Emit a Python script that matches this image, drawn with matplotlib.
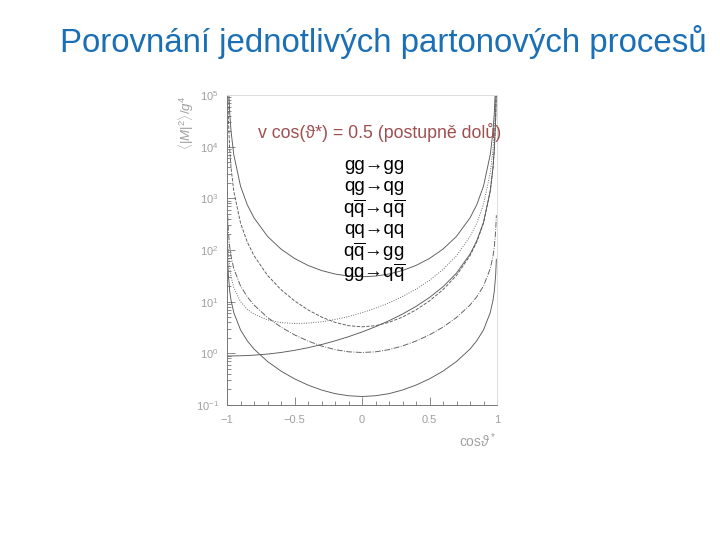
import matplotlib
matplotlib.use("Agg")
import matplotlib.pyplot as plt
from matplotlib.ticker import LogLocator, NullFormatter, MultipleLocator

plt.rcParams['font.family'] = ['Liberation Sans', 'DejaVu Sans']
plt.rcParams['mathtext.fontset'] = 'custom'
plt.rcParams['mathtext.rm'] = 'Liberation Sans'
plt.rcParams['mathtext.it'] = 'Liberation Sans:italic'
plt.rcParams['mathtext.bf'] = 'Liberation Sans:bold'

# cos(theta*) grid the curves were read at
cos_theta = [-0.995, -0.99, -0.98, -0.97, -0.95, -0.9, -0.85, -0.8, -0.7, -0.6,
             -0.5, -0.4, -0.3, -0.2, -0.1, 0.0, 0.1, 0.2, 0.3, 0.4,
             0.5, 0.6, 0.7, 0.8, 0.85, 0.9, 0.95, 0.97, 0.98, 0.99, 0.995]

# <|M|^2>/g^4
gg_gg = [718000, 179000, 44560, 19710, 7033, 1723, 753.5, 418.7, 183.9, 104.2,
         68.7, 50.3, 40.1, 34.3, 31.3, 30.4, 31.3, 34.3, 40.1, 50.3,
         68.7, 104.2, 183.9, 418.7, 753.5, 1723, 7033, 19710, 44560, 179000, 718000]
qg_qg = [178.8, 89.9, 45.5, 30.7, 18.84, 10.02, 7.13, 5.74, 4.45, 3.94,
         3.78, 3.84, 4.08, 4.51, 5.16, 6.11, 7.48, 9.51, 12.59, 17.5,
         25.9, 41.9, 77.5, 181.9, 330.8, 761.9, 3122, 8758, 19800, 79600, 319200]
qqb_qqb = [0.889, 0.889, 0.889, 0.890, 0.891, 0.897, 0.907, 0.922, 0.968, 1.039,
           1.142, 1.284, 1.479, 1.742, 2.10, 2.59, 3.28, 4.28, 5.76, 8.10,
           12.06, 19.47, 35.8, 83.2, 150.4, 344.0, 1399, 3911, 8830, 35440, 142000]
qq_qq = [141750, 35320, 8771, 3872, 1375, 332.5, 142.9, 77.7, 32.3, 17.09,
         10.37, 6.94, 5.04, 3.98, 3.43, 3.26, 3.43, 3.98, 5.04, 6.94,
         10.37, 17.09, 32.3, 77.7, 142.9, 332.5, 1375, 3872, 8771, 35320, 141750]
qqb_gg = [470.2, 233.2, 114.7, 75.3, 43.7, 20.17, 12.42, 8.61, 4.94, 3.22,
          2.28, 1.73, 1.39, 1.18, 1.07, 1.04, 1.07, 1.18, 1.39, 1.73,
          2.28, 3.22, 4.94, 8.61, 12.42, 20.17, 43.7, 75.3, 114.7, 233.2, 470.2]
gg_qqb = [66.1, 32.8, 16.13, 10.58, 6.15, 2.84, 1.75, 1.21, 0.695, 0.453,
          0.321, 0.243, 0.195, 0.166, 0.151, 0.146, 0.151, 0.166, 0.195, 0.243,
          0.321, 0.453, 0.695, 1.21, 1.75, 2.84, 6.15, 10.58, 16.13, 32.8, 66.1]

series = [gg_gg, qg_qg, qqb_qqb, qq_qq, qqb_gg, gg_qqb]
styles = ['-', ':', '-', '--', '-.', '-']

qbar = r'$\mathrm{q\overline{q}}$'
process_labels = ['gg\u2192gg',
                  'qg\u2192qg',
                  qbar + '\u2192' + qbar,
                  'qq\u2192qq',
                  qbar + '\u2192gg',
                  'gg\u2192' + qbar]

fig = plt.figure(figsize=(7.2, 5.4), dpi=100)
ax = fig.add_axes([0.3153, 0.25, 0.375, 0.574])

for vals, ls in zip(series, styles):
    ax.plot(cos_theta, vals, linestyle=ls, color='#5a5a5a', lw=0.65)

ax.set_yscale('log')
ax.set_xlim(-1, 1)
ax.set_ylim(1e-1, 1e5)

grey = '#a0a0a0'
ax.yaxis.set_major_locator(LogLocator(base=10, numticks=10))
ax.yaxis.set_minor_locator(LogLocator(base=10, subs=range(2, 10), numticks=10))
ax.yaxis.set_minor_formatter(NullFormatter())
ax.xaxis.set_minor_locator(MultipleLocator(0.1))
ax.set_xticks([-1, -0.5, 0, 0.5, 1])
ax.set_xticklabels(['\u22121', '\u22120.5', '0', '0.5', '1'])
ax.tick_params(which='both', direction='in', colors='#777777', labelcolor=grey,
               labelsize=8, width=0.6)
ax.tick_params(which='major', length=6)
ax.tick_params(which='minor', length=3)
ax.tick_params(axis='x', pad=7)
ax.tick_params(axis='y', pad=6)
for side in ['left', 'bottom']:
    ax.spines[side].set_color('#777777')
    ax.spines[side].set_linewidth(0.7)
for side in ['top', 'right']:
    ax.spines[side].set_color('#dddddd')
    ax.spines[side].set_linewidth(0.7)

ax.text(-0.15, 1.0, r'$\langle|M|^2\rangle/g^4$', transform=ax.transAxes,
        rotation=90, ha='center', va='top', color=grey, fontsize=9.5)
ax.text(1.0, -0.085, r'cos$\vartheta^*$', transform=ax.transAxes,
        ha='right', va='top', color=grey, fontsize=10)

fig.text(60 / 720, 1 - 42 / 540, 'Porovnání jednotlivých partonových procesů',
         color='#1a6fb5', fontsize=23.8, va='center', ha='left')
fig.text(258 / 720, 1 - 133 / 540, 'v cos(\u03d1*) = 0.5 (postupně dolů)',
         color='#9e4f4f', fontsize=12.8, va='center', ha='left')
for i, lab in enumerate(process_labels):
    fig.text(374 / 720, 1 - (165 + 21.6 * i) / 540, lab, color='black',
             fontsize=13.5, va='center', ha='center')

fig.savefig('out.png', dpi=100)
